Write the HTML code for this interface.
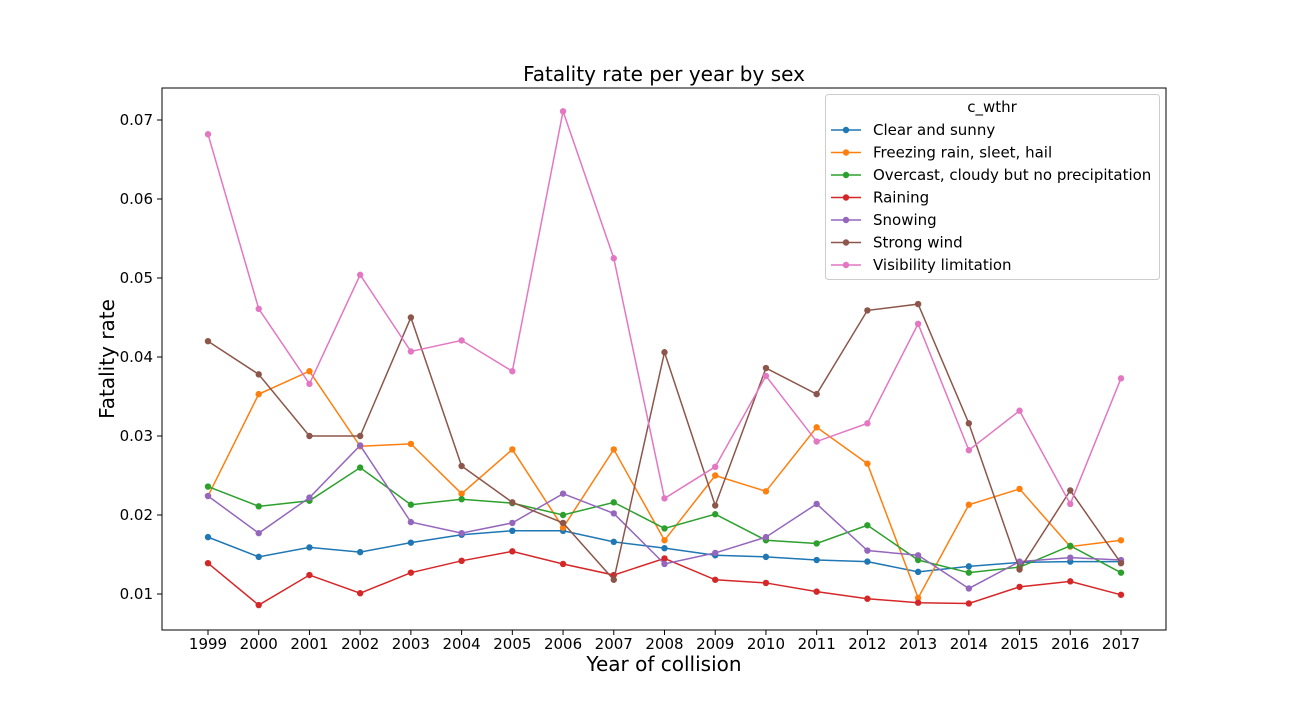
<!DOCTYPE html>
<html><head><meta charset="utf-8"><style>
body{margin:0;background:#fff;}
svg{font-family:"DejaVu Sans","Liberation Sans",sans-serif;}
</style></head><body>
<svg id="chart" width="1296" height="720" viewBox="0 0 1296 720"></svg>
<script>
const years=[1999,2000,2001,2002,2003,2004,2005,2006,2007,2008,2009,2010,2011,2012,2013,2014,2015,2016,2017];
const seriesNames=["Clear and sunny","Freezing rain, sleet, hail","Overcast, cloudy but no precipitation","Raining","Snowing","Strong wind","Visibility limitation"];
const clearSunny=[0.0172,0.0147,0.0159,0.0153,0.0165,0.0175,0.0180,0.0180,0.0166,0.0158,0.0149,0.0147,0.0143,0.0141,0.0128,0.0135,0.0140,0.0141,0.0141];
const freezing=[0.0224,0.0353,0.0382,0.0287,0.0290,0.0227,0.0283,0.0184,0.0283,0.0168,0.0250,0.0230,0.0311,0.0265,0.0095,0.0213,0.0233,0.0160,0.0168];
const overcast=[0.0236,0.0211,0.0218,0.0260,0.0213,0.0220,0.0215,0.0200,0.0216,0.0183,0.0201,0.0168,0.0164,0.0187,0.0143,0.0127,0.0134,0.0161,0.0127];
const raining=[0.0139,0.0086,0.0124,0.0101,0.0127,0.0142,0.0154,0.0138,0.0124,0.0145,0.0118,0.0114,0.0103,0.0094,0.0089,0.0088,0.0109,0.0116,0.0099];
const snowing=[0.0224,0.0177,0.0222,0.0288,0.0191,0.0177,0.0190,0.0227,0.0202,0.0138,0.0152,0.0172,0.0214,0.0155,0.0149,0.0107,0.0141,0.0146,0.0143];
const strongWind=[0.0420,0.0378,0.0300,0.0300,0.0450,0.0262,0.0216,0.0190,0.0118,0.0406,0.0212,0.0386,0.0353,0.0459,0.0467,0.0316,0.0131,0.0231,0.0139];
const visibility=[0.0682,0.0461,0.0366,0.0504,0.0407,0.0421,0.0382,0.0711,0.0525,0.0221,0.0261,0.0376,0.0293,0.0316,0.0442,0.0282,0.0332,0.0214,0.0373];
const yTicks=[0.01,0.02,0.03,0.04,0.05,0.06,0.07];
const allSeries=[clearSunny,freezing,overcast,raining,snowing,strongWind,visibility];
const colors=["#1f77b4","#ff7f0e","#2ca02c","#d62728","#9467bd","#8c564b","#e377c2"];
const L=162,R=1166,T=88,B=630;
const x=i=>208+i*(1121-208)/(years.length-1);
const y=v=>594-(v-0.01)*7900;
const svg=document.getElementById('chart');
const NS="http://www.w3.org/2000/svg";
function mk(tag,attrs,parent){const e=document.createElementNS(NS,tag);for(const k in attrs)e.setAttribute(k,attrs[k]);(parent||svg).appendChild(e);return e;}
let t=mk('text',{x:664,y:81,'text-anchor':'middle','font-size':20,fill:'#000'});t.textContent="Fatality rate per year by sex";


years.forEach((yr,i)=>{
 const g=mk('line',{x1:x(i),x2:x(i),y1:B,y2:B+5,stroke:'#000'});
 
 
 const tx=mk('text',{x:x(i),y:B+19,'text-anchor':'middle','font-size':15});tx.textContent=yr;
 
 
});
yTicks.forEach(v=>{
 const g=mk('line',{x1:L-5,x2:L,y1:y(v),y2:y(v),stroke:'#000'});
 
 
 const tx=mk('text',{x:L-9,y:y(v)+5,'text-anchor':'end','font-size':15});tx.textContent=v.toFixed(2);
 
 
});
t=mk('text',{x:664,y:671,'text-anchor':'middle','font-size':20});t.textContent="Year of collision";


t=mk('text',{x:114,y:359,'text-anchor':'middle','font-size':20,transform:'rotate(-90 114 359)'});t.textContent="Fatality rate";


allSeries.forEach((s,k)=>{
 const p=mk('polyline',{points:s.map((v,i)=>x(i)+','+y(v)).join(' '),fill:'none',stroke:colors[k],'stroke-width':1.5});
 
 
 s.forEach((v,i)=>{const c=mk('circle',{cx:x(i),cy:y(v),r:3.2,fill:colors[k]});
  
  });
});
const fr=mk('rect',{x:L,y:T,width:R-L,height:B-T,fill:'none',stroke:'#000','stroke-width':1});


const lg=mk('g',{});


mk('rect',{x:825.5,y:94.5,width:334,height:185,rx:3,fill:'#fff','fill-opacity':0.8,stroke:'#ccc'},lg);
t=mk('text',{x:992,y:112,'text-anchor':'middle','font-size':15},lg);t.textContent="c_wthr";
seriesNames.forEach((n,k)=>{
 const yy=130+k*22.5;
 const e=mk('g',{},lg);
 
 
 mk('line',{x1:831,x2:861,y1:yy,y2:yy,stroke:colors[k],'stroke-width':1.5},e);
 mk('circle',{cx:846,cy:yy,r:3.2,fill:colors[k]},e);
 const tx=mk('text',{x:873,y:yy+5,'font-size':15},e);tx.textContent=n;
});
</script>
</body></html>
